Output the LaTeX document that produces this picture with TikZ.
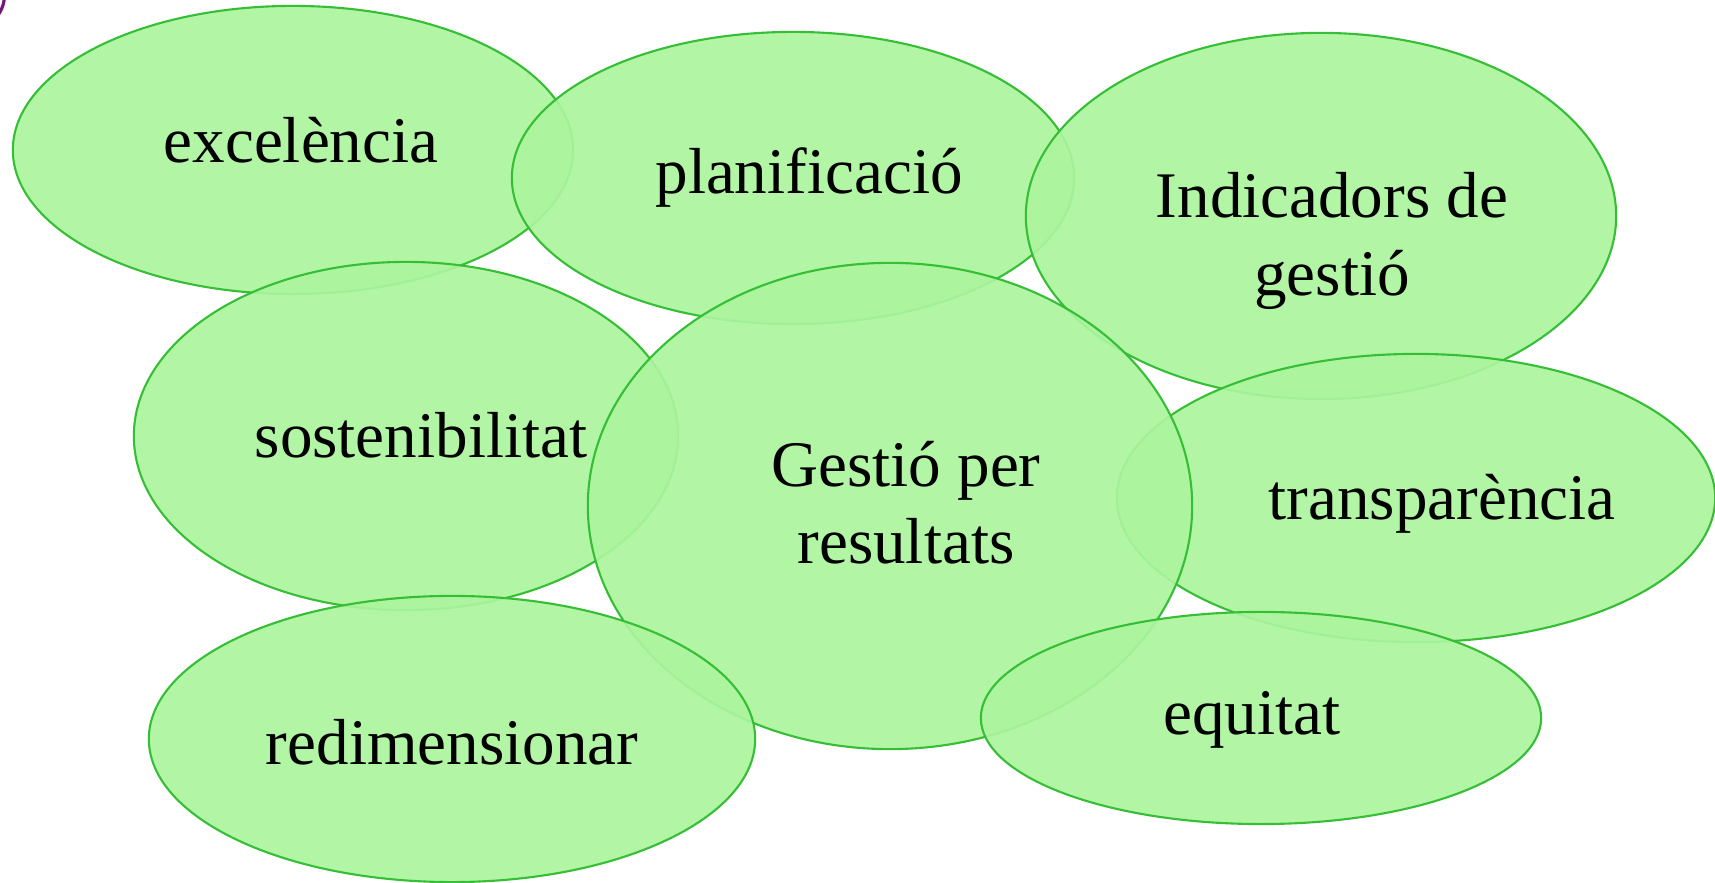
\documentclass[tikz,border=0pt]{standalone}
\usepackage{fontspec}
\setmainfont{Liberation Serif}
\usetikzlibrary{shapes.geometric}

\definecolor{bubfill}{RGB}{171,245,157}
\definecolor{bubline}{RGB}{55,190,55}
\definecolor{dotpurple}{RGB}{120,20,120}

\tikzset{
  bub/.style={ellipse, draw=bubline, line width=0.6pt, fill=bubfill,
    fill opacity=0.92, inner sep=0pt},
  word/.style={font=\fontsize{18.5}{22}\selectfont, align=center, text=black}
}

\begin{document}
\begin{tikzpicture}[x=0.01cm, y=-0.01cm]
\useasboundingbox (0,0) rectangle (1715,883);
\begin{scope}
\clip (0,0) rectangle (1715,883);
\draw[dotpurple, line width=0.9pt] (-30,-5) circle (34.5);
\end{scope}
% bubbles, back to front
\node[bub, minimum width=5.6cm, minimum height=2.88cm] (exc) at (293,150) {};
\node[bub, minimum width=5.62cm, minimum height=2.92cm] (pla) at (793,178) {};
\node[bub, minimum width=5.9cm, minimum height=3.66cm] (ind) at (1321,216) {};
\node[bub, minimum width=5.44cm, minimum height=3.48cm] (sos) at (406,436) {};
\node[bub, minimum width=5.98cm, minimum height=2.88cm] (tra) at (1416,498) {};
\node[bub, minimum width=6.04cm, minimum height=4.86cm] (ges) at (890,506) {};
\node[bub, minimum width=6.06cm, minimum height=2.86cm] (red) at (452,739) {};
\node[bub, minimum width=5.6cm, minimum height=2.12cm] (equ) at (1261,718) {};
% labels
\node[word] (excT) at (301,140) {excelència};
\node[word] (plaT) at (809,178) {planificació};
\node[word] (indT) at (1332,241) {Indicadors de\\gestió};
\node[word] (sosT) at (421,435) {sostenibilitat};
\node[word] (traT) at (1442,504) {transparència};
\node[word] (gesT) at (906,503) {Gestió per\\resultats};
\node[word] (redT) at (452,742) {redimensionar};
\node[word] (equT) at (1252,720) {equitat};
\end{tikzpicture}
\end{document}
